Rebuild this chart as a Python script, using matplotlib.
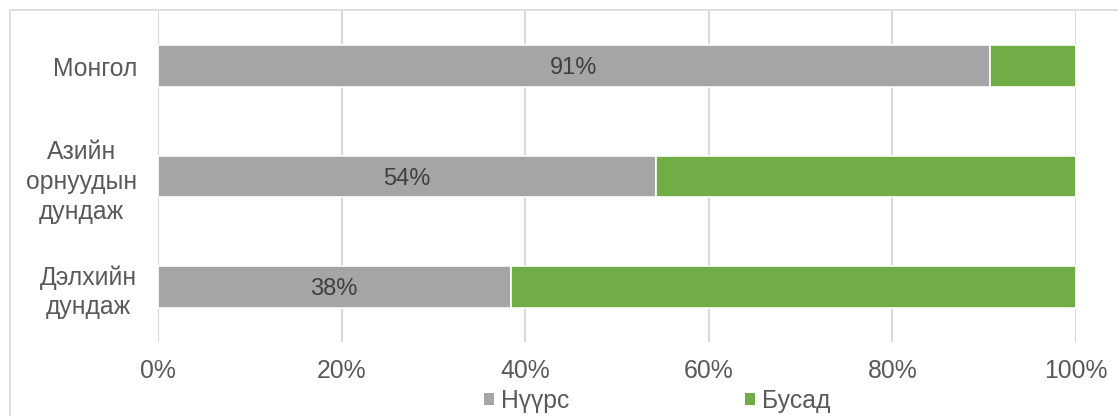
import matplotlib.pyplot as plt
from matplotlib.patches import Rectangle, Patch

# data
categories = ["Монгол", "Азийн\nорнуудын\nдундаж", "Дэлхийн\nдундаж"]
coal = [0.906, 0.543, 0.384]
coal_labels = ["91%", "54%", "38%"]
other = [1 - v for v in coal]
series_names = ["Нүүрс", "Бусад"]
tick_vals = [0, 0.2, 0.4, 0.6, 0.8, 1.0]
tick_labels = ["0%", "20%", "40%", "60%", "80%", "100%"]

GRAY = "#A5A5A5"
GREEN = "#70AD47"
TXT = "#595959"
FS = 17.8

plt.rcParams['font.family'] = ['Liberation Sans', 'DejaVu Sans']

fig = plt.figure(figsize=(11.18, 4.16), dpi=100)
ax = fig.add_axes([158 / 1118, 1 - 342 / 416, (1076 - 158) / 1118, (342 - 11) / 416])

# outer chart border (runs off the right/bottom edge in the reference)
fig.patches.append(Rectangle((10 / 1118, -0.1), 1.2, 1 - 10 / 416 + 0.1,
                             transform=fig.transFigure, fill=False,
                             edgecolor="#D9D9D9", lw=1.2, zorder=0))

ypos = [0, 1, 2]
ax.barh(ypos, coal, height=0.38, color=GRAY, edgecolor="white", lw=1.2, zorder=3)
ax.barh(ypos, other, left=coal, height=0.38, color=GREEN, edgecolor="white", lw=1.2, zorder=3)

for y, v, lab in zip(ypos, coal, coal_labels):
    ax.text(v / 2, y + 0.02, lab, ha="center", va="center", fontsize=17, color="#404040", zorder=4)

ax.set_xlim(0, 1)
ax.set_ylim(2.5, -0.5)
ax.set_xticks(tick_vals)
ax.set_xticklabels(tick_labels)
ax.set_yticks(ypos)
ax.set_yticklabels(categories, ha="right", multialignment="center", linespacing=1.3)
ax.tick_params(axis="y", length=0, pad=15, labelsize=FS, labelcolor=TXT)
ax.tick_params(axis="x", length=0, pad=12, labelsize=FS, labelcolor=TXT)
ax.grid(axis="x", color="#D9D9D9", lw=1.5, zorder=0)
for s in ax.spines.values():
    s.set_visible(False)

handles = [Patch(facecolor=GRAY), Patch(facecolor=GREEN)]
fig.legend(handles, series_names, loc="center", bbox_to_anchor=(0.588, 15 / 416),
           ncol=2, frameon=False, fontsize=FS, labelcolor=TXT,
           handlelength=0.4, handleheight=0.4, handletextpad=0.3, columnspacing=7.1,
           borderpad=0.1)

fig.savefig("out.png", dpi=100)
